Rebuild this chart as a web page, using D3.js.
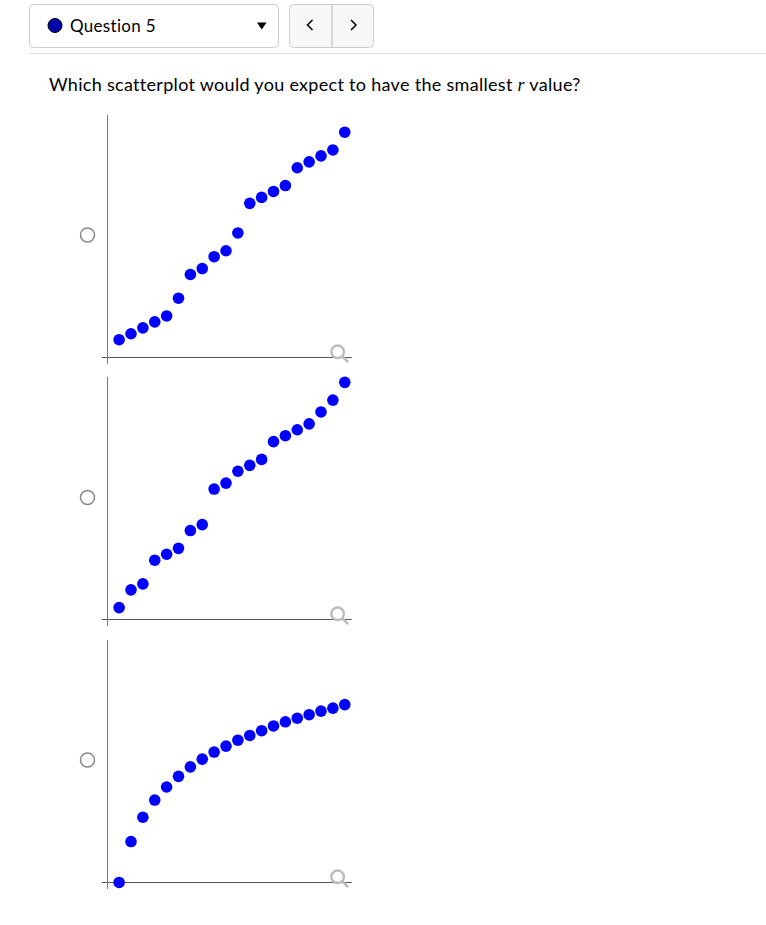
<!DOCTYPE html>
<html>
<head>
<meta charset="utf-8">
<script src="https://cdn.jsdelivr.net/npm/d3@7"></script>
<style>
	html, body { margin: 0; padding: 0; background: #fff; }
	svg { display: block; }
	text { font-family: Lato, sans-serif; fill: #000; letter-spacing: 0.3px; }
</style>
</head>
<body>
<svg width="766" height="925"></svg>
<script>
const questionLabel = 'Question 5';
const promptStart = 'Which scatterplot would you expect to have the smallest ';
const promptVar = 'r';
const promptEnd = ' value?';

const xValues = [1, 2, 3, 4, 5, 6, 7, 8, 9, 10, 11, 12, 13, 14, 15, 16, 17, 18, 19, 20];
const yPlot1 = [3, 4, 5, 6, 7, 10, 14, 15, 17, 18, 21, 26, 27, 28, 29, 32, 33, 34, 35, 38];
const yPlot2 = [2, 5, 6, 10, 11, 12, 15, 16, 22, 23, 25, 26, 27, 30, 31, 32, 33, 35, 37, 40];
const yPlot3 = [0, 6.9, 11, 13.9, 16.1, 17.9, 19.5, 20.8, 22, 23, 24, 24.8, 25.6, 26.4, 27.1, 27.7, 28.3, 28.9, 29.4, 30];

const svg = d3.select('svg');

// Header: dropdown and prev/next buttons
svg.append('rect')
	.attr('x', 29.5).attr('y', 4.5)
	.attr('width', 249).attr('height', 43)
	.attr('rx', 4)
	.attr('fill', '#fff')
	.attr('stroke', '#ccc');
svg.append('circle')
	.attr('cx', 55).attr('cy', 25.5).attr('r', 7)
	.attr('fill', '#0000aa')
	.attr('stroke', '#000')
	.attr('stroke-width', 1);
svg.append('text')
	.attr('x', 70).attr('y', 32)
	.attr('font-size', 17)
	.text(questionLabel);
svg.append('path')
	.attr('d', 'M257 22.5H266.5L261.7 29.5Z')
	.attr('fill', '#000');

svg.append('rect')
	.attr('x', 289.5).attr('y', 4.5)
	.attr('width', 84).attr('height', 43)
	.attr('rx', 4)
	.attr('fill', '#f7f7f7')
	.attr('stroke', '#ccc');
svg.append('line')
	.attr('x1', 332).attr('x2', 332)
	.attr('y1', 5).attr('y2', 47)
	.attr('stroke', '#ccc')
	.attr('stroke-width', 1.5);
svg.append('path')
	.attr('d', 'M312.5 20L307.5 25L312.5 30M351 20L356 25L351 30')
	.attr('fill', 'none')
	.attr('stroke', '#000')
	.attr('stroke-width', 1.5);

svg.append('line')
	.attr('x1', 29).attr('x2', 766)
	.attr('y1', 53.5).attr('y2', 53.5)
	.attr('stroke', '#ddd');

// Prompt
const prompt = svg.append('text')
	.attr('x', 49).attr('y', 91)
	.attr('font-size', 18)
	.style('white-space', 'pre');
prompt.append('tspan').text(promptStart);
prompt.append('tspan')
	.style('font-family', '"Liberation Serif", serif')
	.attr('font-style', 'italic')
	.text(promptVar);
prompt.append('tspan').text(promptEnd);

// Scales, shared by all three plots (only the vertical offset changes)
const x = d3.scaleLinear().domain([-0.5, 20.55]).range([101.3, 351.3]);
const yScale = top => d3.scaleLinear().domain([-1, 41]).range([top + 249, top]);

const plots = [
	{ values: yPlot1, top: 114.4, radioY: 235 },
	{ values: yPlot2, top: 376.4, radioY: 497.5 },
	{ values: yPlot3, top: 639.4, radioY: 760 }
];

plots.forEach(p => {
	const y = yScale(p.top);
	const g = svg.append('g');

	svg.append('circle')
		.attr('cx', 87.5).attr('cy', p.radioY).attr('r', 7)
		.attr('fill', '#fff')
		.attr('stroke', '#888')
		.attr('stroke-width', 1.5);

	const xAxis = g.append('g')
		.attr('transform', `translate(0, ${Math.floor(y(0))})`)
		.call(d3.axisBottom(x).tickValues([]).tickSizeOuter(0));
	const yAxis = g.append('g')
		.attr('transform', `translate(${Math.round(x(0))}, 0)`)
		.call(d3.axisLeft(y).tickValues([]).tickSizeOuter(0));
	xAxis.select('.domain').attr('stroke', '#555');
	yAxis.select('.domain').attr('stroke', '#777');

	// magnifier
	const mx = x(19.4);
	const my = y(0) - 5.7;
	g.append('circle')
		.attr('cx', mx).attr('cy', my).attr('r', 6.3)
		.attr('fill', 'none')
		.attr('stroke', '#bbb')
		.attr('stroke-width', 2.4);
	g.append('line')
		.attr('x1', mx + 4.5).attr('y1', my + 4.5)
		.attr('x2', mx + 10.5).attr('y2', my + 10.3)
		.attr('stroke', '#bbb')
		.attr('stroke-width', 2.6);

	g.selectAll('.dot')
		.data(p.values)
		.enter()
		.append('circle')
		.attr('class', 'dot')
		.attr('cx', (d, i) => x(xValues[i]))
		.attr('cy', d => y(d))
		.attr('r', 5.8)
		.attr('fill', '#0000ff');
});
</script>
</body>
</html>
